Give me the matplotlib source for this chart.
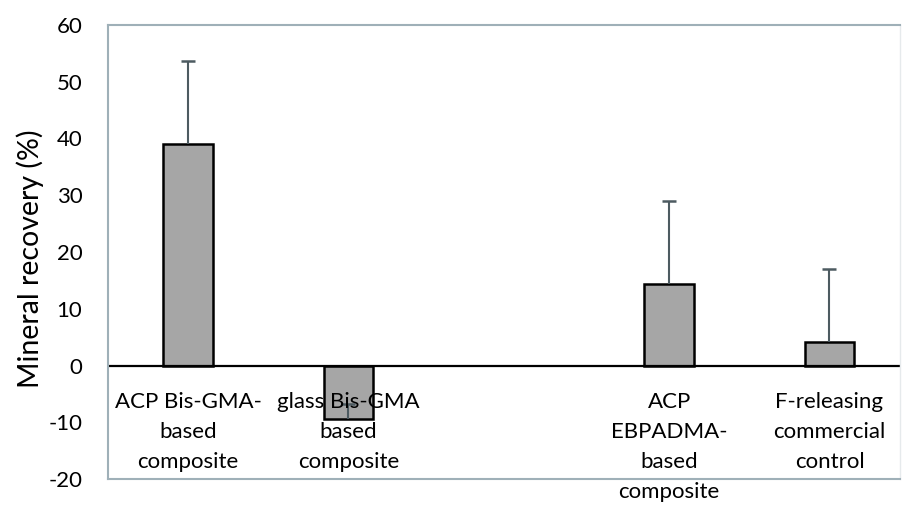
import matplotlib
matplotlib.use("Agg")
import matplotlib.pyplot as plt

plt.rcParams['font.family'] = ['Lato', 'DejaVu Sans']

categories = ["ACP Bis-GMA-\nbased\ncomposite",
              "glass Bis-GMA\nbased\ncomposite",
              "",
              "ACP\nEBPADMA-\nbased\ncomposite",
              "F-releasing\ncommercial\ncontrol"]
values = [39.0, -9.5, None, 14.4, 4.2]
errors = [14.7, 2.8, None, 14.6, 12.8]
yticks = [-20, -10, 0, 10, 20, 30, 40, 50, 60]
ylabel = "Mineral recovery (%)"

W, H = 902, 507
fig = plt.figure(figsize=(W / 100, H / 100), dpi=100)
ax = fig.add_axes([108 / W, 28 / H, 792 / W, 454 / H])

xs = [i for i, v in enumerate(values) if v is not None]
vals = [values[i] for i in xs]
errs = [errors[i] for i in xs]

ax.bar(xs, vals, width=0.31, color="#a6a6a6", edgecolor="black",
       linewidth=1.8, zorder=2)

tops = [v + e for v, e in zip(vals, errs)]
ax.vlines(xs, vals, tops, color="#4d5b61", linewidth=1.5, zorder=3)
ax.plot(xs, tops, linestyle="none", marker="_", markersize=9.5,
        markeredgewidth=1.8, color="#4d5b61", zorder=3)

ax.axhline(0, color="black", linewidth=1.6, zorder=2.5)

ax.set_xlim(-0.5, 4.44)
ax.set_ylim(-20, 60)
ax.set_yticks(yticks)
ax.set_yticklabels([str(t) for t in yticks], fontsize=16)
ax.tick_params(axis="y", length=0, pad=18.5, colors="black")
ax.set_xticks([])

for s in ["left", "top", "bottom"]:
    ax.spines[s].set_color("#9fb0b8")
    ax.spines[s].set_linewidth(1.5)
ax.spines["right"].set_color("#e6eaec")
ax.spines["right"].set_linewidth(1.0)

for i, lab in enumerate(categories):
    if lab:
        ax.text(i, -4.6, lab, ha="center", va="top", fontsize=16,
                linespacing=1.64, zorder=5, clip_on=False)

fig.text(30 / W, 1 - 259 / H, ylabel, rotation=90, ha="center", va="center",
         fontsize=20.5)

fig.savefig("out.png", dpi=100)
